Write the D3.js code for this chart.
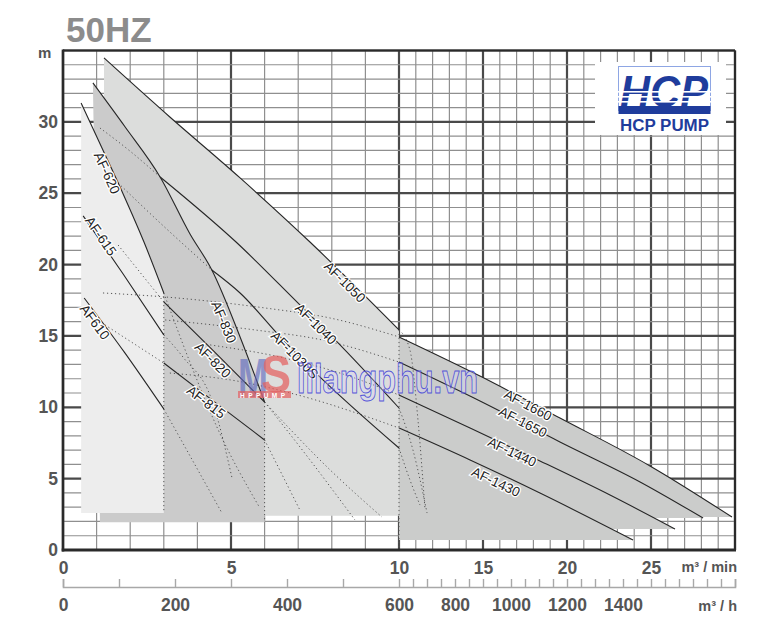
<!DOCTYPE html>
<html><head><meta charset="utf-8">
<script src="https://cdn.jsdelivr.net/npm/d3@7"></script>
<style>
body{margin:0;background:#fff}
svg{display:block}
text{font-family:"Liberation Sans",Arial,Helvetica,sans-serif}
</style>
</head><body>
<svg id="chart" width="765" height="629"></svg>
<script>
// ---------- data (flow m3/min, head m) ----------
const headTicks = [0,5,10,15,20,25,30];
const flowMinTicks = [0,5,10,15,20,25];
const flowHourTicks = [0,200,400,600,800,1000,1200,1400];

const af610  = [[0.63,17.66],[1.82,13.88],[3.0,9.88]];
const af615  = [[0.6,23.41],[1.79,19.34],[3.0,15.07]];
const af620  = [[0.54,31.32],[1.16,28.17],[1.79,24.95],[2.41,21.58],[3.0,18.01]];
const af815  = [[3.0,13.1],[4.5,10.4],[6.0,7.71]];
const af820  = [[3.0,17.38],[4.5,13.9],[6.0,10.37]];
const af830  = [[0.89,32.73],[1.85,29.64],[2.89,26.14],[3.78,22.14],[4.43,19.62],[5.27,14.93],[6.0,10.37]];
const af1030s= [[4.43,19.62],[5.27,18.01],[6.55,14.72],[7.59,12.26],[10.0,7.15]];
const af1040 = [[2.89,26.14],[5.15,21.58],[7.05,17.17],[8.1,14.72],[10.0,9.95]];
const af1050 = [[1.22,34.48],[3.18,30.34],[5.27,26.07],[7.35,21.58],[10.0,15.42]];
const af1430 = [[10,8.55],[14.23,6.31],[18.39,3.99],[23.93,0.70]];
const af1440 = [[10,10.86],[14.23,8.55],[18.39,6.24],[22.56,3.85],[26.43,1.47]];
const af1650 = [[10,13.17],[14.82,10.44],[19.58,7.57],[24.35,4.77],[28.1,2.24]];
const af1660 = [[10,14.93],[14.82,12.19],[19.58,9.25],[24.94,5.89],[29.82,2.31]];

// dotted continuations of the curves
const ext610  = [[3.0,9.88],[4.73,2.59]];
const ext615  = [[3.0,15.07],[3.57,13.52],[4.46,10.3],[5.03,5.05]];
const ext620  = [[3.0,18.01],[3.87,12.61],[4.58,8.62],[5.86,2.94]];
const ext815  = [[6.0,7.71],[7.05,2.8]];
const ext820  = [[6.0,10.37],[7.35,6.31],[8.69,2.1]];
const ext830  = [[6.0,10.37],[7.95,5.61],[9.49,2.31]];
const ext1030s= [[10,7.15],[10.65,4.91],[11.25,3.15]];
const ext1040 = [[10,9.95],[10.83,7.01],[11.67,2.59]];
const ext1050 = [[10,15.42],[10.65,14.02],[11.13,9.11],[11.55,2.8]];
const low815  = [[1.25,15.77],[3.0,13.1]];
const low820  = [[1.64,21.37],[3.0,17.38]];
const low1030s= [[1.64,25.72],[2.89,22.92],[4.43,19.62]];
const low1040 = [[1.1,29.57],[1.99,27.96],[2.89,26.14]];
const low1430 = [[3.18,12.4],[5.18,11.84],[6.99,10.86],[10,8.55]];
const low1440 = [[4.38,14.37],[6.46,13.52],[8.24,12.4],[10,10.86]];
const low1650 = [[3.04,16.12],[5.71,15.42],[7.71,14.72],[10,13.17]];
const low1660 = [[1.19,18.01],[3.04,17.73],[6.01,16.96],[7.94,16.26],[10,14.93]];

// region floors / edges
const floorA = 2.6, floorB = 1.95, floorC = 2.4, floorD = 0.2;
const leftBFloor = 1.1;

// labels
const modelNames = ["AF610","AF-615","AF-620","AF-815","AF-820","AF-830","AF-1030S","AF-1040","AF-1050","AF-1430","AF-1440","AF-1650","AF-1660"];
const labelFlow  = [0.95,1.13,1.31,4.26,4.46,4.79,6.9,7.53,8.39,15.77,16.73,17.38,17.68];
const labelHead  = [15.98,22.0,26.42,10.37,13.31,15.98,13.67,15.84,18.78,4.77,6.87,8.97,10.16];
const labelCurves = [af610,af615,af620,af815,af820,af830,af1030s,af1040,af1050,af1430,af1440,af1650,af1660];

// ---------- scales ----------
const x = d3.scaleLinear().domain([0,10,30]).range([63,399,735]);
const xh = d3.scaleLinear().domain([0,600,1800]).range([63,399,735]);
const y = d3.scaleLinear().domain([0,35]).range([550,50.5]);

const svg = d3.select("#chart");

// title
svg.append("text").attr("x",66).attr("y",42).attr("font-size",35).attr("font-weight","bold")
  .attr("fill","#8c8c8c").text("50HZ");
svg.append("text").attr("x",38).attr("y",58).attr("font-size",15).attr("font-weight","bold")
  .attr("fill","#555").text("m");

// ---------- grid ----------
const grid = svg.append("g");
const vLines = d3.range(0,31);
const hLines = d3.range(0,36);
grid.selectAll("line.v").data(vLines).join("line")
  .attr("x1",d=>x(d)).attr("x2",d=>x(d)).attr("y1",y(35)).attr("y2",y(0))
  .attr("stroke",d=>d%5===0?"#4a4a4a":"#8f8f8f")
  .attr("stroke-width",d=>d%5===0?2.2:1.2);
grid.selectAll("line.h").data(hLines).join("line")
  .attr("y1",d=>y(d)).attr("y2",d=>y(d)).attr("x1",x(0)).attr("x2",x(30))
  .attr("stroke",d=>d%5===0?"#4a4a4a":"#8f8f8f")
  .attr("stroke-width",d=>d%5===0?2.2:1.2);

// ---------- regions ----------
const lineGen = d3.line().x(d=>x(d[0])).y(d=>y(d[1])).curve(d3.curveMonotoneX);
const plain = d3.line().x(d=>x(d[0])).y(d=>y(d[1]));
const areaUnder = (pts, floor) => d3.area().x(d=>x(d[0])).y0(y(floor)).y1(d=>y(d[1])).curve(d3.curveMonotoneX)(pts);

const reg = svg.append("g");
reg.append("path").attr("d",areaUnder(af1050,floorC)).attr("fill","#dcdddc");
const lastB = af830[af830.length-1];
reg.append("path").attr("d",lineGen(af830)+"L"+x(lastB[0])+","+y(floorB)+"L"+x(leftBFloor)+","+y(floorB)+"Z")
  .attr("fill","#cbcbcb");
reg.append("path").attr("d",areaUnder(af620,floorA)).attr("fill","#ededed");
[af1660,af1650,af1440,af1430].forEach(c=>{
  reg.append("path").attr("d",areaUnder(c,c[c.length-1][1])).attr("fill","#cbcccb");
});

// ---------- dotted lines ----------
const dots = svg.append("g").attr("fill","none").attr("stroke","#555").attr("stroke-width",1)
  .attr("stroke-dasharray","1.2,2.8");
[ext610,ext615,ext620,ext815,ext820,ext830,ext1030s,ext1040,ext1050,
 low815,low820,low1030s,low1040,low1430,low1440,low1650,low1660].forEach(c=>{
  dots.append("path").attr("d",lineGen(c));
});
[[af620,floorA],[af830,floorB],[af1050,floorD]].forEach(([c,f])=>{
  const e = c[c.length-1];
  dots.append("path").attr("d",plain([[e[0],e[1]],[e[0],f]]));
});

// ---------- solid curves ----------
const curves = svg.append("g").attr("fill","none").attr("stroke","#262626").attr("stroke-width",1.1);
[af610,af615,af620,af815,af820,af830,af1030s,af1040,af1050,af1430,af1440,af1650,af1660].forEach(c=>{
  curves.append("path").attr("d",lineGen(c));
});

// ---------- frame ----------
const fr = svg.append("g").attr("stroke","#2a2a2a");
fr.append("line").attr("x1",x(0)).attr("x2",x(30)).attr("y1",y(35)).attr("y2",y(35)).attr("stroke-width",2);
fr.append("line").attr("x1",x(30)).attr("x2",x(30)).attr("y1",y(35)).attr("y2",y(0)).attr("stroke-width",2.2);
fr.append("line").attr("x1",x(0)).attr("x2",x(0)).attr("y1",y(35)-1).attr("y2",y(0)+1.5).attr("stroke-width",2.6);
fr.append("line").attr("x1",x(0)-1.3).attr("x2",x(30)+1).attr("y1",y(0)).attr("y2",y(0)).attr("stroke-width",3);

// ---------- curve labels ----------
const lab = svg.append("g").attr("font-size",13.5).attr("fill","#1e1e1e");
modelNames.forEach((n,i)=>{
  const c = labelCurves[i], lx = labelFlow[i];
  let k = 0;
  while (k < c.length-2 && c[k+1][0] < lx) k++;
  const ang = Math.atan2(y(c[k+1][1])-y(c[k][1]), x(c[k+1][0])-x(c[k][0]))*180/Math.PI;
  lab.append("text")
    .attr("transform",`translate(${x(lx)},${y(labelHead[i])}) rotate(${ang})`)
    .attr("text-anchor","middle").attr("dy","0.35em")
    .attr("stroke","#fff").attr("stroke-width",2.6).attr("paint-order","stroke")
    .text(n);
});

// ---------- axes ----------
const axStyle = g => {
  g.select(".domain").remove();
  g.selectAll("text").attr("font-size",17.5).attr("font-weight","bold").attr("fill","#555")
    .attr("font-family",'"Liberation Sans",Arial,sans-serif');
};
svg.append("g").attr("transform",`translate(${x(0)},0)`)
  .call(d3.axisLeft(y).tickValues(headTicks).tickSize(0).tickPadding(5)).call(axStyle);
svg.append("g").attr("transform",`translate(0,${y(0)})`)
  .call(d3.axisBottom(x).tickValues(flowMinTicks).tickSize(0).tickPadding(12).tickFormat(d3.format("d"))).call(axStyle);

const hourMarks = d3.range(0,600,100).concat(d3.range(600,1801,50));
const hx = svg.append("g").attr("transform","translate(0,587)")
  .call(d3.axisTop(xh).tickValues(hourMarks).tickSize(8).tickFormat(""));
hx.select(".domain").attr("stroke","#a8a8a8").attr("stroke-width",1.6);
hx.selectAll(".tick line").attr("stroke","#a8a8a8").attr("stroke-width",1.4);
svg.append("g").attr("transform","translate(0,587)")
  .call(d3.axisBottom(xh).tickValues(flowHourTicks).tickSize(0).tickPadding(12).tickFormat(d3.format("d"))).call(axStyle);

svg.append("text").attr("x",737).attr("y",572).attr("text-anchor","end").attr("font-size",14.5)
  .attr("font-weight","bold").attr("fill","#555").text("m³ / min");
svg.append("text").attr("x",737).attr("y",611).attr("text-anchor","end").attr("font-size",14.5)
  .attr("font-weight","bold").attr("fill","#555").text("m³ / h");

// ---------- HCP logo ----------
const logo = svg.append("g");
logo.append("rect").attr("x",595).attr("y",62).attr("width",131).attr("height",73).attr("fill","#fff");
logo.append("rect").attr("x",618.5).attr("y",66.5).attr("width",92).attr("height",44)
  .attr("fill","none").attr("stroke","#8ea6e4").attr("stroke-width",1);
logo.append("text").attr("x",620).attr("y",107).attr("font-size",45).attr("font-weight","bold")
  .attr("font-style","italic").attr("fill","#1f3c9c").attr("textLength",88)
  .attr("lengthAdjust","spacingAndGlyphs").text("HCP");
[91,96,101].forEach(v=>logo.append("rect").attr("x",618).attr("y",v).attr("width",93).attr("height",1.6).attr("fill","#fff"));
logo.append("rect").attr("x",618.5).attr("y",106).attr("width",92).attr("height",8).attr("fill","#1f3c9c");
logo.append("text").attr("x",620).attr("y",131).attr("font-size",16).attr("font-weight","bold")
  .attr("fill","#1f3c9c").attr("textLength",89).attr("lengthAdjust","spacingAndGlyphs").text("HCP PUMP");

// ---------- watermark ----------
const wm = svg.append("g");
wm.append("text").attr("x",238).attr("y",397).attr("font-size",56).attr("font-weight","bold")
  .attr("fill","rgba(90,100,190,0.6)").attr("textLength",30).attr("lengthAdjust","spacingAndGlyphs").text("M");
wm.append("text").attr("x",261).attr("y",392).attr("font-size",52).attr("font-weight","bold")
  .attr("fill","rgba(228,95,95,0.72)").attr("textLength",30).attr("lengthAdjust","spacingAndGlyphs").text("S");
wm.append("rect").attr("x",238).attr("y",391).attr("width",53).attr("height",7).attr("fill","rgba(228,95,95,0.7)");
wm.append("text").attr("x",240).attr("y",397.5).attr("font-size",6.5).attr("font-weight","bold")
  .attr("fill","#fff").attr("textLength",45).text("HPPUMP");
wm.append("text").attr("x",297).attr("y",393).attr("font-size",40).attr("font-weight","bold")
  .attr("font-family",'"Liberation Serif","DejaVu Serif",serif')
  .attr("fill","rgba(215,215,250,0.35)").attr("stroke","rgba(70,70,215,0.9)").attr("stroke-width",1)
  .attr("textLength",181).attr("lengthAdjust","spacingAndGlyphs").text("lilangphu.vn");
</script>
</body></html>
